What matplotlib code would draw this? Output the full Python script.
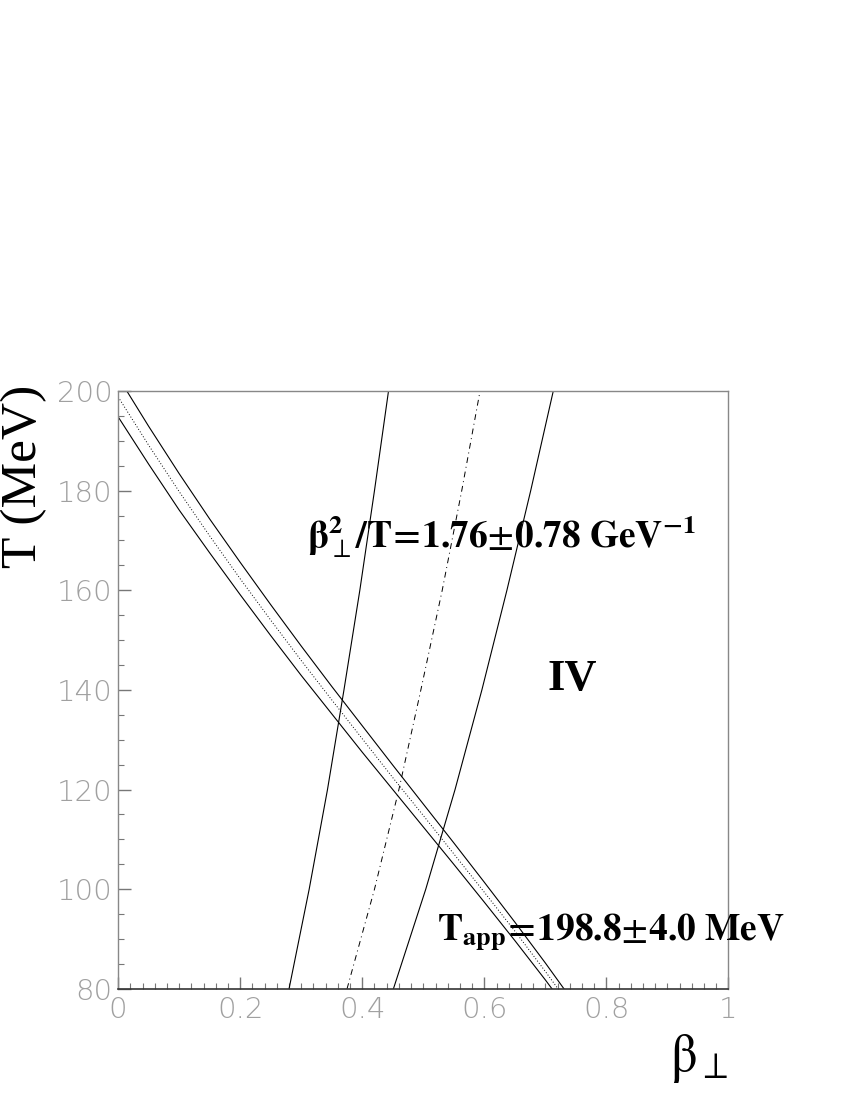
import matplotlib
matplotlib.use('Agg')  # noqa
import matplotlib.pyplot as plt
from matplotlib.ticker import MultipleLocator

plt.rcParams['mathtext.fontset'] = 'stix'

# beta^2/T = const curves (central, lower, upper), sampled at these T values
t_grid = [80, 100, 120, 140, 160, 180, 200]
beta_k_low = [0.280, 0.313, 0.343, 0.370, 0.396, 0.420, 0.443]
beta_k_mid = [0.375, 0.420, 0.460, 0.496, 0.531, 0.563, 0.593]
beta_k_high = [0.451, 0.504, 0.552, 0.596, 0.637, 0.676, 0.713]

# T_app curves (lower, central, upper), sampled at these beta values
beta_grid = [0.0, 0.05, 0.10, 0.15, 0.20, 0.25, 0.30, 0.35,
             0.40, 0.45, 0.50, 0.55, 0.60, 0.65, 0.70, 0.75]
t_app_low = [194.8, 185.3, 176.1, 167.5, 159.1, 150.9, 142.9, 135.2,
             127.5, 120.0, 112.5, 105.0, 97.4, 89.7, 81.8, 73.6]
t_app_mid = [198.8, 189.1, 179.8, 170.9, 162.3, 154.0, 145.9, 138.0,
             130.2, 122.4, 114.8, 107.1, 99.4, 91.6, 83.5, 75.1]
t_app_high = [202.8, 192.9, 183.4, 174.3, 165.6, 157.1, 148.8, 140.7,
              132.8, 124.9, 117.1, 109.3, 101.4, 93.4, 85.2, 76.7]

fig = plt.figure(figsize=(8.5, 11), dpi=100)
ax = fig.add_axes([0.139, 0.101, 0.718, 0.5436])

lw = 0.8
ax.plot(beta_k_low, t_grid, color='black', lw=lw)
ax.plot(beta_k_mid, t_grid, color='black', lw=0.7, linestyle=(0, (6, 4, 1, 4)))
ax.plot(beta_k_high, t_grid, color='black', lw=lw)

ax.plot(beta_grid, t_app_low, color='black', lw=lw)
ax.plot(beta_grid, t_app_mid, color='black', lw=0.7, linestyle=(0, (1, 2)))
ax.plot(beta_grid, t_app_high, color='black', lw=lw)

ax.set_xlim(0, 1)
ax.set_ylim(80, 200)

ax.xaxis.set_major_locator(MultipleLocator(0.2))
ax.xaxis.set_minor_locator(MultipleLocator(0.02))
ax.yaxis.set_major_locator(MultipleLocator(20))
ax.yaxis.set_minor_locator(MultipleLocator(5))
ax.xaxis.set_major_formatter(plt.FuncFormatter(lambda v, p: ('%g' % v)))

ax.tick_params(which='both', direction='in', top=False, right=False,
               color='#777777', labelcolor='#a0a0a0', labelsize=21)
ax.tick_params(which='major', length=9, width=1)
ax.tick_params(which='minor', length=4.5, width=0.8)
ax.tick_params(axis='x', pad=5)
ax.tick_params(axis='y', pad=4)
for lab in ax.get_xticklabels() + ax.get_yticklabels():
    lab.set_fontweight('light')

for side in ['top', 'right', 'left']:
    ax.spines[side].set_color('#888888')
    ax.spines[side].set_linewidth(1)
ax.spines['bottom'].set_color('#333333')
ax.spines['bottom'].set_linewidth(1.2)

ax.text(0.31, 168.5,
        r'$\mathbf{\beta}_{\perp}^{\mathbf{2}}\mathbf{/T\!=\!1.76}\!\pm\!'
        r'\mathbf{0.78\ GeV}^{\mathbf{-1}}$',
        fontsize=27, ha='left', va='baseline')
ax.text(0.744, 142.2, 'IV', fontsize=32, fontweight='bold',
        family='Liberation Serif', ha='center', va='center')
ax.text(0.523, 89.8, r'$\mathbf{T}_{\mathbf{app}}\!\mathbf{=\!198.8}\!\pm\!\mathbf{4.0\ MeV}$',
        fontsize=27, ha='left', va='baseline')

fig.text(0.001, 0.650, 'T (MeV)', rotation=90, fontsize=37,
         family='Liberation Serif', ha='left', va='top')
fig.text(0.857, 0.062, r'$\mathrm{\beta}_{\perp}$', fontsize=38,
         ha='right', va='top')

plt.savefig('out.png', dpi=100)
